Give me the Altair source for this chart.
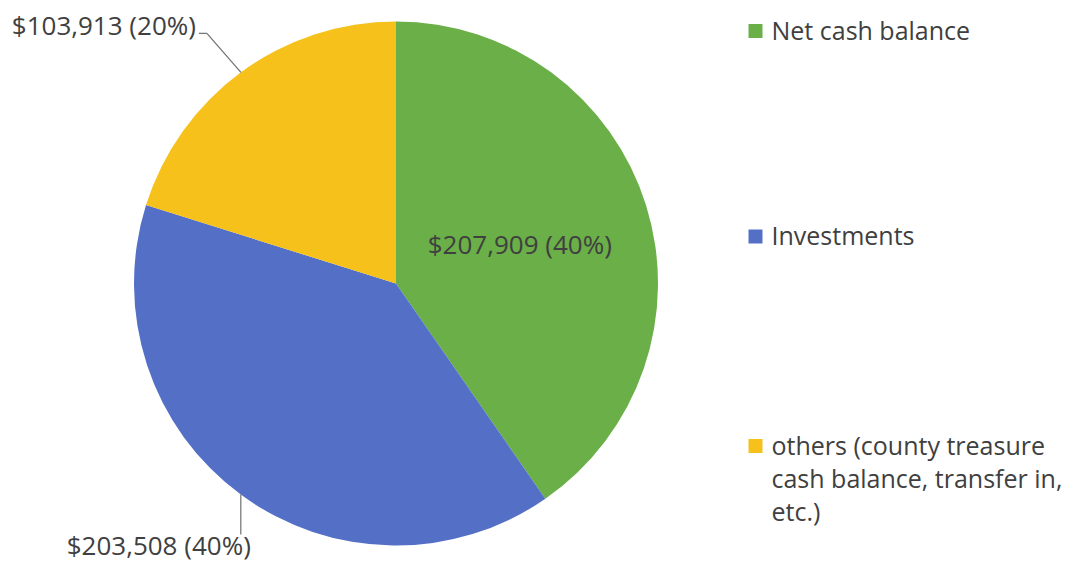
import altair as alt
import pandas as pd

# ---- data ----
categories = ["Net cash balance", "Investments",
              "others (county treasure cash balance, transfer in, etc.)"]
values = [207909, 203508, 103913]
pct_labels = ["40%", "40%", "20%"]
legend_labels = ["Net cash balance", "Investments",
                 "others (county treasure\ncash balance, transfer in,\netc.)"]
colors = ["#6AAF47", "#5470C6", "#F5C11A"]

# ---- layout / style ----
FONT = "Open Sans"
FS = 25
LFS = 26
TEXT = "#404040"
LEADER = "#707070"
CX, CY, R = 388, 275.5, 262          # pie centre and radius (chart px)
GREEN_LABEL_R = 129.7
LEG_X = 747.5
LEG_TEXT_X = 763.5
LEG_Y = [23, 228.5, 438]

df = pd.DataFrame({"category": categories, "value": values, "pct": pct_labels,
                   "order": list(range(len(values)))})
leg = pd.DataFrame({"category": categories, "legend": legend_labels, "ly": LEG_Y})

color_scale = alt.Scale(domain=categories, range=colors)

pie = alt.Chart(df).mark_arc(radius=R, stroke=None).encode(
    theta=alt.Theta("value:Q", stack=True),
    order=alt.Order("order:Q"),
    color=alt.Color("category:N", scale=color_scale, legend=None),
    x=alt.value(CX), y=alt.value(CY),
)

base = (alt.Chart(df)
        .transform_joinaggregate(total="sum(value)")
        .transform_window(cum="sum(value)", sort=[alt.SortField("order")], frame=[None, 0])
        .transform_calculate(
            mid="2*PI*(datum.cum - datum.value/2)/datum.total",
            label="'$' + format(datum.value, ',') + ' (' + datum.pct + ')'")
        .transform_calculate(
            ex=f"{CX} + {R}*sin(datum.mid)",
            ey=f"{CY} - {R}*cos(datum.mid)"))

def X(f):
    return alt.X(f"{f}:Q", scale=None, axis=None)

def Y(f):
    return alt.Y(f"{f}:Q", scale=None, axis=None)

txt = dict(font=FONT, fontSize=FS, color=TEXT, baseline="alphabetic")
ltxt = dict(font=FONT, fontSize=LFS, color=TEXT, baseline="alphabetic")

# green label inside the slice
green_lbl = (base.transform_filter("datum.order == 0")
             .transform_calculate(lx=f"{CX} + {GREEN_LABEL_R}*sin(datum.mid)",
                                  ly=f"{CY} - {GREEN_LABEL_R}*cos(datum.mid) + 9")
             .mark_text(align="center", **ltxt)
             .encode(x=X("lx"), y=Y("ly"), text="label:N"))

# yellow (others) label with elbow leader
yel = base.transform_filter("datum.order == 2").transform_calculate(
    kx="datum.ex - 34", ky="datum.ey - 39", hx="datum.ex - 42",
    tx="datum.ex - 45", ty="datum.ey - 37")
yel_l1 = yel.mark_rule(color=LEADER, strokeWidth=1.2).encode(
    x=X("ex"), y=Y("ey"), x2="kx:Q", y2="ky:Q")
yel_l2 = yel.mark_rule(color=LEADER, strokeWidth=1.2).encode(
    x=X("kx"), y=Y("ky"), x2="hx:Q", y2="ky:Q")
yel_t = yel.mark_text(align="right", **ltxt).encode(x=X("tx"), y=Y("ty"), text="label:N")

# blue label with vertical leader
blu = base.transform_filter("datum.order == 1").transform_calculate(
    by="datum.ey + 40", tx="datum.ex + 10", ty="datum.ey + 60")
blu_l = blu.mark_rule(color=LEADER, strokeWidth=1.2).encode(
    x=X("ex"), y=Y("ey"), x2="ex:Q", y2="by:Q")
blu_t = blu.mark_text(align="right", **ltxt).encode(x=X("tx"), y=Y("ty"), text="label:N")

# legend
leg_sq = alt.Chart(leg).mark_square(size=196, opacity=1).encode(
    x=alt.value(LEG_X), y=Y("ly"),
    color=alt.Color("category:N", scale=color_scale, legend=None))
leg_t = (alt.Chart(leg).transform_calculate(ty="datum.ly + 8.5")
         .mark_text(align="left", lineBreak="\n", lineHeight=33, **txt)
         .encode(x=alt.value(LEG_TEXT_X), y=Y("ty"), text="legend:N"))

chart = (alt.layer(pie, green_lbl, yel_l1, yel_l2, yel_t, blu_l, blu_t, leg_sq, leg_t)
         .properties(width=1059, height=557, padding=0,
                     autosize=alt.AutoSizeParams(type="none"), background="white")
         .configure_view(stroke=None))

chart.save("out.html", embed_options={"renderer": "svg", "actions": False})
